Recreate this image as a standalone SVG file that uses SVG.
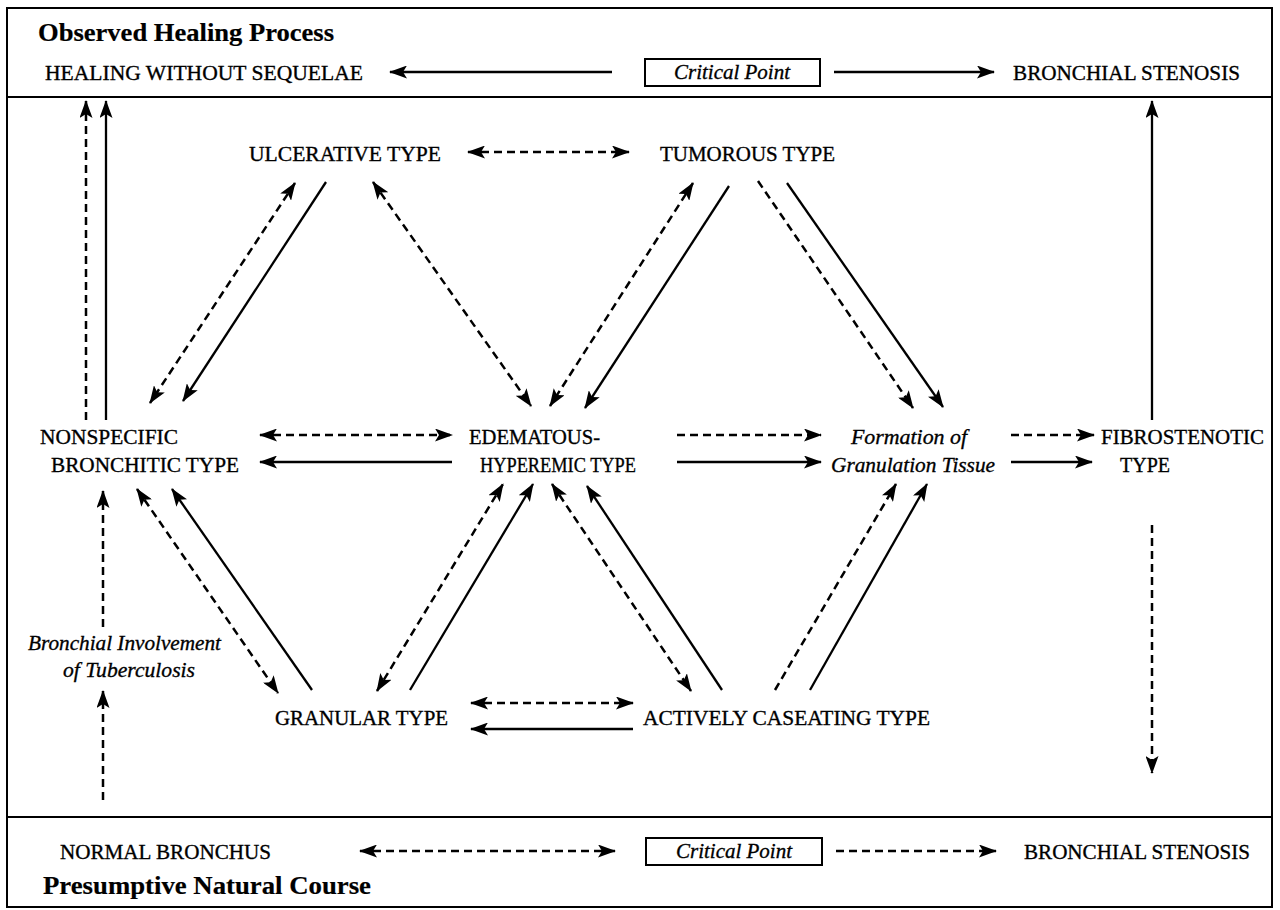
<svg xmlns="http://www.w3.org/2000/svg" width="1280" height="910" viewBox="0 0 1280 910">
<style>
text{font-family:"Liberation Serif","Times New Roman",serif;fill:#000;stroke:#000;stroke-width:0.35;font-size:22px}
.b{font-weight:bold;font-size:26px;stroke-width:0.2}
.i{font-style:italic}
.s{stroke:#000;stroke-width:2.3;fill:none}
.d{stroke:#000;stroke-width:2.5;fill:none;stroke-dasharray:8 5}
.frame{stroke:#000;stroke-width:2;fill:none}
</style>
<defs>
<marker id="ah" viewBox="0 0 18 13" refX="17" refY="6.5" markerWidth="18" markerHeight="13" markerUnits="userSpaceOnUse" orient="auto-start-reverse">
<path d="M0,0 L18,6.5 L0,13 L4,6.5 Z" fill="#000"/>
</marker>
</defs>
<rect width="1280" height="910" fill="#fff"/>
<g id="frame">
<rect class="frame" x="7" y="8" width="1265" height="899"/>
<line class="frame" x1="7" y1="97" x2="1272" y2="97"/>
<line class="frame" x1="7" y1="817" x2="1272" y2="817"/>
</g>
<g id="header">
<text class="b" x="38" y="41" textLength="296" lengthAdjust="spacingAndGlyphs">Observed Healing Process</text>
</g>
<g id="healing"><text x="45" y="80" textLength="318" lengthAdjust="spacingAndGlyphs">HEALING WITHOUT SEQUELAE</text></g>
<g id="critical-top"><rect class="frame" x="645" y="59" width="175" height="27"/><text class="i" x="732" y="79" text-anchor="middle" textLength="116" lengthAdjust="spacingAndGlyphs">Critical Point</text></g>
<g id="stenosis-top"><text x="1013" y="80" textLength="227" lengthAdjust="spacingAndGlyphs">BRONCHIAL STENOSIS</text></g>
<g id="ulcerative"><text x="249" y="161" textLength="192" lengthAdjust="spacingAndGlyphs">ULCERATIVE TYPE</text></g>
<g id="tumorous"><text x="660" y="161" textLength="175" lengthAdjust="spacingAndGlyphs">TUMOROUS TYPE</text></g>
<g id="nonspecific"><text x="40" y="444" textLength="138" lengthAdjust="spacingAndGlyphs">NONSPECIFIC</text><text x="51" y="472" textLength="188" lengthAdjust="spacingAndGlyphs">BRONCHITIC TYPE</text></g>
<g id="edematous"><text x="469" y="444" textLength="131" lengthAdjust="spacingAndGlyphs">EDEMATOUS-</text><text x="480" y="472" textLength="156" lengthAdjust="spacingAndGlyphs">HYPEREMIC TYPE</text></g>
<g id="granulation"><text class="i" x="851" y="444" textLength="116" lengthAdjust="spacingAndGlyphs">Formation of</text><text class="i" x="831" y="472" textLength="164" lengthAdjust="spacingAndGlyphs">Granulation Tissue</text></g>
<g id="fibrostenotic"><text x="1101" y="444" textLength="163" lengthAdjust="spacingAndGlyphs">FIBROSTENOTIC</text><text x="1120" y="472" textLength="50" lengthAdjust="spacingAndGlyphs">TYPE</text></g>
<g id="involvement"><text class="i" x="28" y="650" textLength="193" lengthAdjust="spacingAndGlyphs">Bronchial Involvement</text><text class="i" x="63" y="677" textLength="132" lengthAdjust="spacingAndGlyphs">of Tuberculosis</text></g>
<g id="granular"><text x="275" y="725" textLength="173" lengthAdjust="spacingAndGlyphs">GRANULAR TYPE</text></g>
<g id="caseating"><text x="643" y="725" textLength="287" lengthAdjust="spacingAndGlyphs">ACTIVELY CASEATING TYPE</text></g>
<g id="normal"><text x="60" y="859" textLength="211" lengthAdjust="spacingAndGlyphs">NORMAL BRONCHUS</text></g>
<g id="critical-bottom"><rect class="frame" x="646" y="838" width="176" height="27"/><text class="i" x="734" y="858" text-anchor="middle" textLength="116" lengthAdjust="spacingAndGlyphs">Critical Point</text></g>
<g id="stenosis-bottom"><text x="1024" y="859" textLength="226" lengthAdjust="spacingAndGlyphs">BRONCHIAL STENOSIS</text></g>
<g id="footer"><text class="b" x="43" y="894" textLength="328" lengthAdjust="spacingAndGlyphs">Presumptive Natural Course</text></g>
<g id="connectors">
<line class="s" x1="612" y1="72" x2="390" y2="72" marker-end="url(#ah)"/>
<line class="s" x1="834" y1="72" x2="994" y2="72" marker-end="url(#ah)"/>
<line class="d" x1="360" y1="851" x2="615" y2="851" marker-start="url(#ah)" marker-end="url(#ah)"/>
<line class="d" x1="836" y1="851" x2="996" y2="851" marker-end="url(#ah)"/>
<line class="d" x1="468" y1="152" x2="629" y2="152" marker-start="url(#ah)" marker-end="url(#ah)"/>
<line class="d" x1="86" y1="420" x2="86" y2="101" marker-end="url(#ah)"/>
<line class="s" x1="106" y1="420" x2="106" y2="101" marker-end="url(#ah)"/>
<line class="s" x1="1152" y1="420" x2="1152" y2="101" marker-end="url(#ah)"/>
<line class="d" x1="1152" y1="525" x2="1152" y2="773" marker-end="url(#ah)"/>
<line class="d" x1="295" y1="183" x2="150" y2="403" marker-start="url(#ah)" marker-end="url(#ah)"/>
<line class="s" x1="326" y1="182" x2="183" y2="401" marker-end="url(#ah)"/>
<line class="d" x1="373" y1="182" x2="531" y2="406" marker-start="url(#ah)" marker-end="url(#ah)"/>
<line class="d" x1="693" y1="183" x2="550" y2="406" marker-start="url(#ah)" marker-end="url(#ah)"/>
<line class="s" x1="729" y1="186" x2="585" y2="408" marker-end="url(#ah)"/>
<line class="d" x1="758" y1="181" x2="913" y2="408" marker-end="url(#ah)"/>
<line class="s" x1="787" y1="183" x2="943" y2="407" marker-end="url(#ah)"/>
<line class="d" x1="260" y1="435" x2="452" y2="435" marker-start="url(#ah)" marker-end="url(#ah)"/>
<line class="s" x1="452" y1="462" x2="260" y2="462" marker-end="url(#ah)"/>
<line class="d" x1="677" y1="435" x2="821" y2="435" marker-end="url(#ah)"/>
<line class="s" x1="677" y1="462" x2="821" y2="462" marker-end="url(#ah)"/>
<line class="d" x1="1011" y1="435" x2="1094" y2="435" marker-end="url(#ah)"/>
<line class="s" x1="1011" y1="462" x2="1092" y2="462" marker-end="url(#ah)"/>
<line class="d" x1="103" y1="627" x2="103" y2="491" marker-end="url(#ah)"/>
<line class="d" x1="103" y1="800" x2="103" y2="691" marker-end="url(#ah)"/>
<line class="d" x1="137" y1="489" x2="278" y2="693" marker-start="url(#ah)" marker-end="url(#ah)"/>
<line class="s" x1="312" y1="690" x2="172" y2="489" marker-end="url(#ah)"/>
<line class="d" x1="377" y1="691" x2="503" y2="484" marker-start="url(#ah)" marker-end="url(#ah)"/>
<line class="s" x1="410" y1="690" x2="533" y2="484" marker-end="url(#ah)"/>
<line class="d" x1="552" y1="484" x2="691" y2="691" marker-start="url(#ah)" marker-end="url(#ah)"/>
<line class="s" x1="722" y1="690" x2="587" y2="486" marker-end="url(#ah)"/>
<line class="d" x1="775" y1="690" x2="896" y2="484" marker-end="url(#ah)"/>
<line class="s" x1="810" y1="690" x2="927" y2="484" marker-end="url(#ah)"/>
<line class="d" x1="471" y1="703" x2="633" y2="703" marker-start="url(#ah)" marker-end="url(#ah)"/>
<line class="s" x1="633" y1="729" x2="471" y2="729" marker-end="url(#ah)"/>
</g>
</svg>
